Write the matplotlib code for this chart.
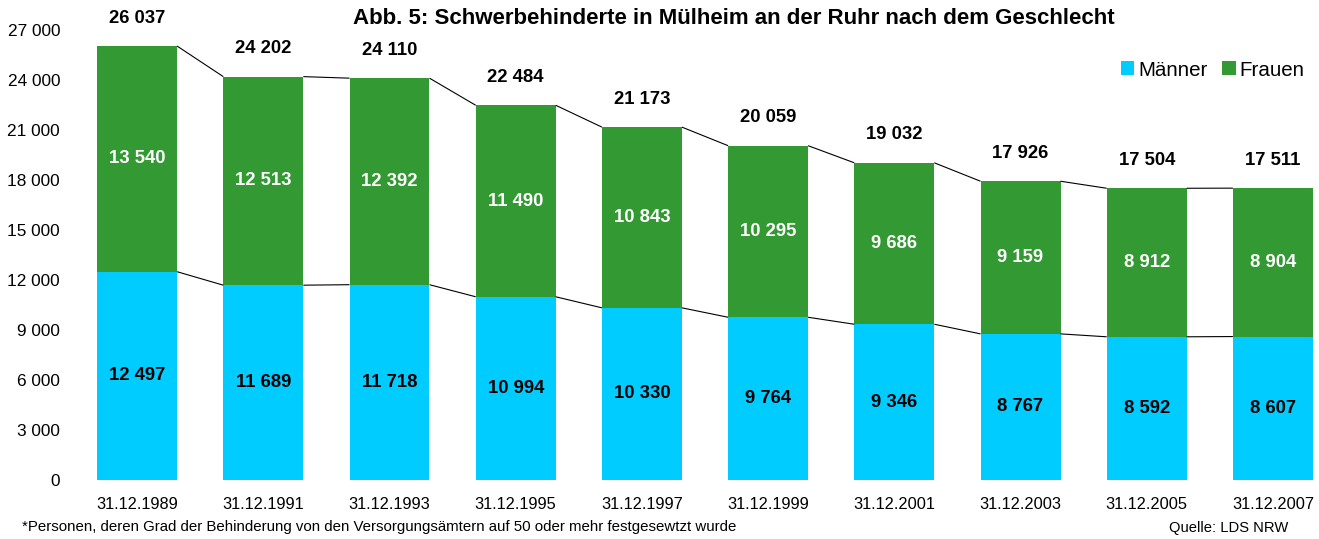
import matplotlib
matplotlib.use("Agg")
import matplotlib.pyplot as plt
from matplotlib.patches import Patch

plt.rcParams['font.family'] = ['Liberation Sans', 'DejaVu Sans']

dates = ["31.12.1989", "31.12.1991", "31.12.1993", "31.12.1995", "31.12.1997",
         "31.12.1999", "31.12.2001", "31.12.2003", "31.12.2005", "31.12.2007"]
maenner = [12497, 11689, 11718, 10994, 10330, 9764, 9346, 8767, 8592, 8607]
frauen = [13540, 12513, 12392, 11490, 10843, 10295, 9686, 9159, 8912, 8904]
yticks = list(range(0, 27001, 3000))

def fmt(v):
    return f"{v:,}".replace(",", " ")

C_M = "#00CCFF"
C_F = "#339933"

W, H = 1319, 539
fig = plt.figure(figsize=(W / 100, H / 100), dpi=100)
left_px, right_px = 74, 1319
bottom_px, top_px = 480, 30
ax = fig.add_axes([left_px / W, (H - bottom_px) / H, (right_px - left_px) / W, (bottom_px - top_px) / H])

step = 126.2
n = len(dates)
x = list(range(n))
bw = 80 / step
ax.set_xlim(-0.5, -0.5 + (right_px - left_px) / step)
ax.set_ylim(0, 27000)

totals = [m + f for m, f in zip(maenner, frauen)]
ax.bar(x, maenner, width=bw, color=C_M, label="Männer", zorder=2)
ax.bar(x, frauen, width=bw, bottom=maenner, color=C_F, label="Frauen", zorder=2)

# connector lines
for i in range(n - 1):
    for series in (maenner, totals):
        ax.plot([i + bw / 2, i + 1 - bw / 2], [series[i], series[i + 1]],
                color="black", lw=0.8, zorder=3, solid_capstyle="butt")

for i in range(n):
    ax.text(x[i], maenner[i] / 2, fmt(maenner[i]), ha="center", va="center",
            fontsize=13.3, fontweight="bold", color="black")
    ax.text(x[i], maenner[i] + frauen[i] / 2, fmt(frauen[i]), ha="center", va="center",
            fontsize=13.3, fontweight="bold", color="white")
    ax.annotate(fmt(totals[i]), (x[i], totals[i]), xytext=(0, 28), textcoords="offset pixels",
                ha="center", va="center", fontsize=13.3, fontweight="bold", color="black",
                annotation_clip=False)

ax.set_yticks(yticks)
ax.set_yticklabels([fmt(v) for v in yticks], fontsize=12.4)
ax.set_xticks(x)
ax.set_xticklabels(dates, fontsize=11.8)
ax.tick_params(axis="both", length=0)
ax.tick_params(axis="y", pad=10)
ax.tick_params(axis="x", pad=12)
for s in ax.spines.values():
    s.set_visible(False)

fig.text(734 / W, 1 - 18.5 / H, "Abb. 5: Schwerbehinderte in Mülheim an der Ruhr nach dem Geschlecht",
         ha="center", va="center", fontsize=16, fontweight="bold")

handles = [Patch(facecolor=C_M, label="Männer"), Patch(facecolor=C_F, label="Frauen")]
fig.legend(handles=handles, loc="center right", bbox_to_anchor=(1313 / W, 1 - 70 / H),
           ncol=2, frameon=False, fontsize=14.8, handlelength=0.65, handleheight=0.65,
           handletextpad=0.2, columnspacing=0.7, borderaxespad=0)

fig.text(22 / W, 1 - 527 / H,
         "*Personen, deren Grad der Behinderung von den Versorgungsämtern auf 50 oder mehr festgesewtzt wurde",
         ha="left", va="center", fontsize=10.8)
fig.text(1288 / W, 1 - 528 / H, "Quelle: LDS NRW", ha="right", va="center", fontsize=10.6)

fig.savefig("out.png", dpi=100)
